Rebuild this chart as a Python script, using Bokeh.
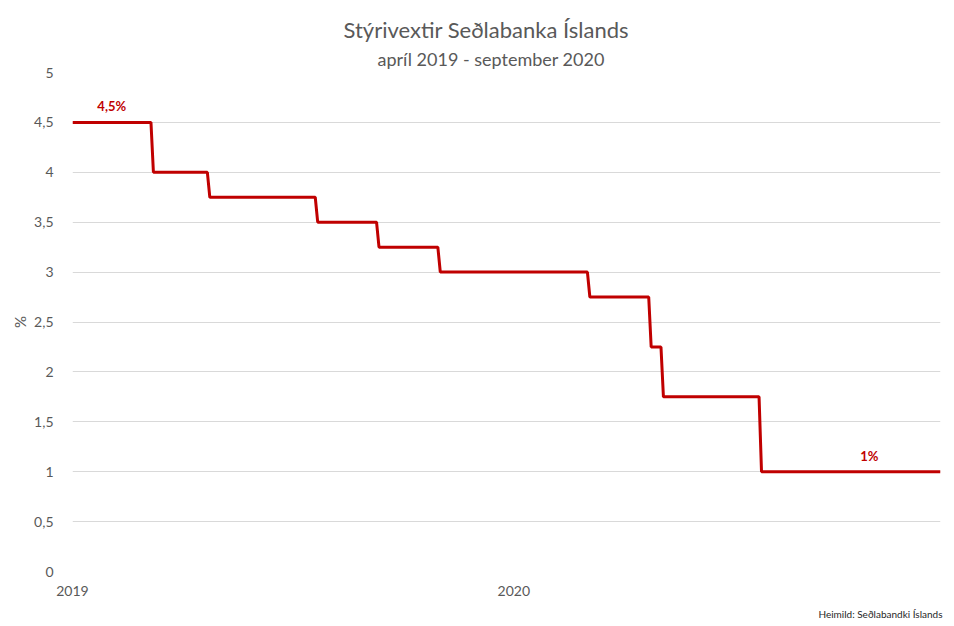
from bokeh.plotting import figure
from bokeh.models import Range1d, FixedTicker, Title, ColumnDataSource
from bokeh.core.properties import value
from bokeh.embed import file_html
from bokeh.resources import INLINE

# Policy rate levels (%), each starting at a business-day index (Apr 2019 = 0)
level_start = [0, 33, 56, 100, 125, 150, 211, 236, 241, 281]
rates = [4.5, 4.0, 3.75, 3.5, 3.25, 3.0, 2.75, 2.25, 1.75, 1.0]
end_index = 354

x_tick_pos = [0, 180]
x_tick_labels = ["2019", "2020"]
y_ticks = [0, 0.5, 1, 1.5, 2, 2.5, 3, 3.5, 4, 4.5, 5]
y_tick_labels = ["0", "0,5", "1", "1,5", "2", "2,5", "3", "3,5", "4", "4,5", "5"]

label_idx = [16, 325]
label_rate = [4.5, 1.0]
label_text = ["4,5%", "1%"]

title_text = "Stýrivextir Seðlabanka Íslands"
subtitle_text = "apríl 2019 - september 2020"
source_text = "Heimild: Seðlabandki Íslands"

FONT = "Lato"
GREY = "#595959"
RED = "#C00000"

# build step line (each drop spans one business day)
xs, ys = [level_start[0]], [rates[0]]
for i in range(1, len(rates)):
    xs += [level_start[i] - 1, level_start[i]]
    ys += [rates[i - 1], rates[i]]
xs.append(end_index)
ys.append(rates[-1])

W, H = 946, 626
p = figure(width=W, height=H, output_backend="svg", toolbar_location=None,
           x_range=Range1d(0, end_index), y_range=Range1d(0, 5),
           min_border_left=72, min_border_right=6, min_border_top=72, min_border_bottom=54)
p.outline_line_color = None
p.background_fill_color = "white"
p.border_fill_color = "white"

p.line(xs, ys, line_color=RED, line_width=3)

src = ColumnDataSource(dict(x=label_idx, y=label_rate, t=label_text))
p.text(x="x", y="y", text="t", source=src, text_color=RED, text_font=value(FONT),
       text_font_style="bold", text_font_size="13px", text_align="center",
       text_baseline="bottom", y_offset=-8)

# axes
p.xaxis.ticker = FixedTicker(ticks=x_tick_pos)
p.xaxis.major_label_overrides = {k: v for k, v in zip(x_tick_pos, x_tick_labels)}
p.yaxis.ticker = FixedTicker(ticks=y_ticks)
p.yaxis.major_label_overrides = {k: v for k, v in zip(y_ticks, y_tick_labels)}
for ax in (p.xaxis[0], p.yaxis[0]):
    ax.axis_line_color = None
    ax.major_tick_line_color = None
    ax.minor_tick_line_color = None
    ax.major_label_text_font = FONT
    ax.major_label_text_font_size = "14px"
    ax.major_label_text_color = GREY
p.xaxis.major_label_standoff = 8
p.yaxis.major_label_standoff = 13
p.yaxis.axis_label = "%"
p.yaxis.axis_label_text_font = FONT
p.yaxis.axis_label_text_font_style = "normal"
p.yaxis.axis_label_text_font_size = "15px"
p.yaxis.axis_label_text_color = GREY
p.yaxis.axis_label_standoff = 2

p.xgrid.grid_line_color = None
p.ygrid.grid_line_color = "#d9d9d9"
p.ygrid.grid_line_width = 1

p.add_layout(Title(text=source_text, align="right", offset=-2, text_font=FONT,
                   text_font_size="10px", text_font_style="normal", text_color="#262626",
                   standoff=14), "below")

# subtitle first (closest to the frame), then main title above it
p.add_layout(Title(text=subtitle_text, align="left", offset=305, text_font=FONT,
                   text_font_size="18px", text_font_style="normal", text_color=GREY,
                   standoff=5), "above")
p.add_layout(Title(text=title_text, align="left", offset=271, text_font=FONT,
                   text_font_size="22px", text_font_style="normal", text_color=GREY,
                   standoff=2), "above")

open("out.html", "w").write(file_html(p, INLINE))
